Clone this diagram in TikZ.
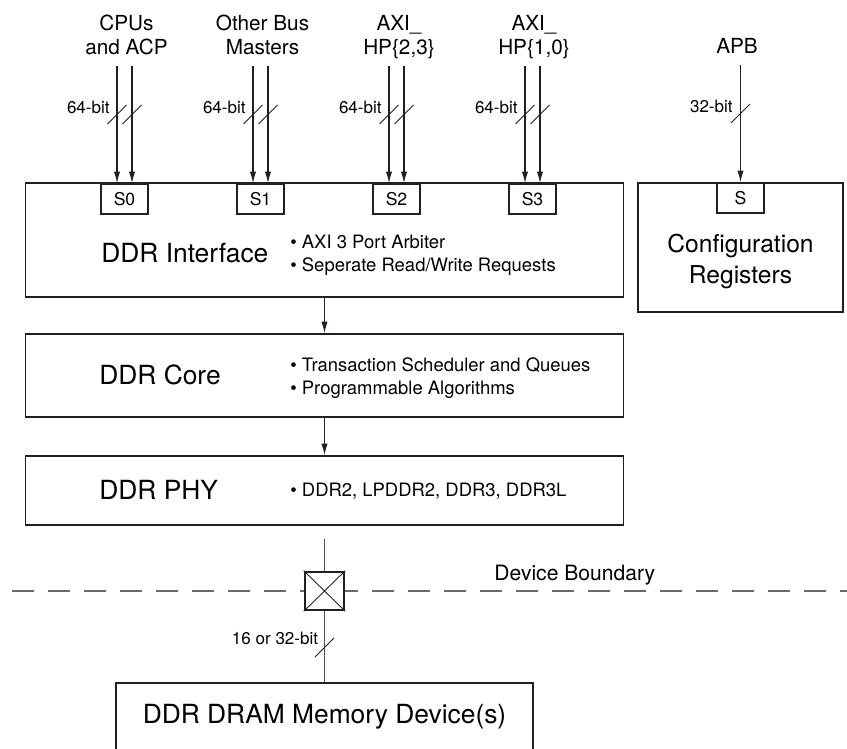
\documentclass[tikz,border=0pt]{standalone}
\usepackage{fontspec}
\setmainfont{TeX Gyre Heros}
\usetikzlibrary{arrows.meta}
\definecolor{line_color}{RGB}{35,31,32}
\definecolor{wire_color}{RGB}{80,80,80}
\definecolor{bound_color}{RGB}{105,105,105}

\begin{document}
\begin{tikzpicture}[
    block/.style={draw=line_color, line width=1.1pt, minimum width=11.96cm, inner sep=0pt},
    port/.style={draw=line_color, line width=1pt, fill=white, minimum width=0.93cm, minimum height=0.6cm, inner sep=0pt, anchor=north, font=\fontsize{10}{12}\selectfont},
    bus/.style={line_color, line width=0.6pt, -{Latex[length=6.5pt,width=3.6pt]}},
    wire/.style={wire_color, line width=0.7pt},
    busmark/.style={line_color, line width=0.5pt},
    master/.style={align=center, anchor=north, inner sep=0pt, font=\fontsize{11.8}{13.66}\selectfont},
    bitlabel/.style={anchor=base east, inner sep=0pt, font=\fontsize{9.7}{11}\selectfont},
    blocktitle/.style={anchor=base west, inner sep=0pt, font=\fontsize{15}{18}\selectfont},
    features/.style={align=left, anchor=north west, inner sep=0pt, font=\fontsize{10.5}{13.1}\selectfont}
  ]

      \useasboundingbox (0,0) rectangle (16.94,-14.98);

      % 1. Bloques principales
      \node[block, minimum height=2.28cm] (iface) at (6.49,-4.80) {};
      \node[block, minimum height=1.66cm] (core) at (6.49,-7.51) {};
      \node[block, minimum height=1.38cm] (phy) at (6.49,-9.81) {};
      \node[block, minimum width=4.1cm, minimum height=2.58cm] (cfg) at (14.81,-4.95) {};
      \node[block, minimum width=8.34cm, minimum height=1.34cm, font=\fontsize{15}{18}\selectfont] (mem) at (6.49,-14.33) {DDR DRAM Memory Device(s)};

      % 2. Puertos esclavos
      \node[port] (s0) at (2.49,-3.66) {S0};
      \node[port] (s1) at (5.21,-3.66) {S1};
      \node[port] (s2) at (7.93,-3.66) {S2};
      \node[port] (s3) at (10.65,-3.66) {S3};
      \node[port] (s) at (cfg.north) {S};

      % 3. Maestros (arriba)
      \node[master] (cpu) at (2.53,-0.30) {CPUs\\and ACP};
      \node[master] (other) at (5.25,-0.30) {Other Bus\\Masters};
      \node[master] (hp23) at (7.98,-0.30) {AXI\_\\HP\{2,3\}};
      \node[master] (hp10) at (10.68,-0.30) {AXI\_\\HP\{1,0\}};
      \node[master] (apb) at (14.74,-0.76) {APB};

      % 4. Buses AXI de 64 bits (dos flechas por puerto)
      \foreach \p in {s0,s1,s2,s3}{
        \foreach \dx in {-0.15,0.15}{
          \draw[bus] ([xshift=\dx cm,yshift=2.34cm]\p.north) -- ([xshift=\dx cm]\p.north);
          \draw[busmark] ([xshift=\dx cm,yshift=1.37cm]\p.north) +(-0.19,-0.19) -- +(0.19,0.19);
        }
        \node[bitlabel] (w\p) at ([xshift=-0.29cm,yshift=1.40cm]\p.north) {64-bit};
      }

      % Bus APB
      \draw[bus] ([yshift=2.34cm]s.north) -- (s.north);
      \draw[busmark] ([yshift=1.37cm]s.north) +(-0.19,-0.19) -- +(0.19,0.19);
      \node[bitlabel] (ws) at ([xshift=-0.15cm,yshift=1.40cm]s.north) {32-bit};

      % 5. Textos de los bloques
      \node[blocktitle] (ifacet) at (2.02,-5.24) {DDR Interface};
      \node[features] (ifacef) at (5.80,-4.69) {\textbullet\ AXI 3 Port Arbiter\\\textbullet\ Seperate Read/Write Requests};

      \node[blocktitle] (coret) at (1.98,-7.68) {DDR Core};
      \node[features] (coref) at (5.80,-7.14) {\textbullet\ Transaction Scheduler and Queues\\\textbullet\ Programmable Algorithms};

      \node[blocktitle] (phyt) at (1.98,-9.98) {DDR PHY};
      \node[features, anchor=base west] (phyf) at (5.80,-9.92) {\textbullet\ DDR2, LPDDR2, DDR3, DDR3L};

      \node[align=center, anchor=north, inner sep=0pt, font=\fontsize{14}{17.6}\selectfont] (cfgt) at (14.81,-4.68) {Configuration\\Registers};

      \draw[bus] (iface.south) -- (core.north);
      \draw[bus] (core.south) -- (phy.north);

      % 6. Frontera del dispositivo
      \draw[bound_color, line width=0.7pt, dash pattern=on 0.44cm off 0.28cm] (0.24,-11.82) -- (16.94,-11.82);
      \node[anchor=base west, inner sep=0pt, font=\fontsize{12}{14}\selectfont] (bound) at (9.88,-11.60) {Device Boundary};

      \node[draw=line_color, line width=1.5pt, fill=white, minimum width=0.78cm, minimum height=0.76cm, inner sep=0pt] (pad) at (6.49,-11.82) {};
      \draw[line_color, line width=0.5pt] (pad.north west) -- (pad.south east) (pad.north east) -- (pad.south west);

      \draw[wire] ([yshift=-0.26cm]phy.south) -- (pad.north);
      \draw[wire] (pad.south) -- (mem.north);
      \draw[busmark] ([yshift=0.69cm]mem.north) +(-0.19,-0.19) -- +(0.19,0.19);
      \node[bitlabel] (wmem) at ([xshift=-0.12cm,yshift=0.76cm]mem.north) {16 or 32-bit};

\end{tikzpicture}
\end{document}
